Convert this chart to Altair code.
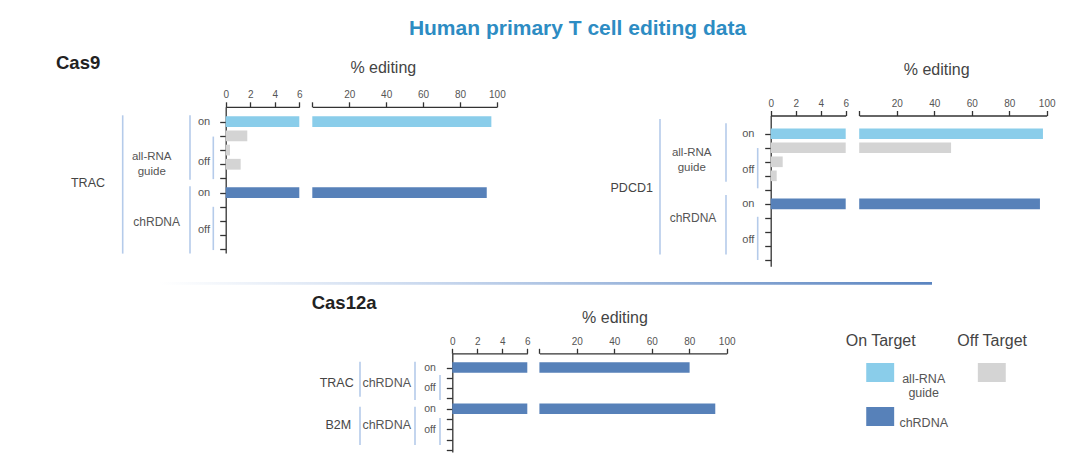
import altair as alt
import pandas as pd

FONT = "Liberation Sans"
CYAN = "#8acdea"
DARK = "#5781b9"
GRAY = "#d4d4d4"
BRACKET = "#b5cbea"
AXIS = "#333333"
TXT = "#555555"
TITLE_BLUE = "#2d8cc3"

# ---------------- data ----------------
guides = ["all-RNA guide", "chRDNA"]

# Cas9 / TRAC
trac9_on_rows = [1, 6]
trac9_on_guides = ["all-RNA guide", "chRDNA"]
trac9_on_values = [97.0, 94.5]
trac9_off_rows = [2, 3, 4]
trac9_off_values = [1.76, 0.35, 1.22]

# Cas9 / PDCD1
pdcd1_on_rows = [1, 6]
pdcd1_on_guides = ["all-RNA guide", "chRDNA"]
pdcd1_on_values = [98.0, 96.4]
pdcd1_off_rows = [2, 3, 4]
pdcd1_off_values = [49.0, 0.96, 0.48]

# Cas12a / TRAC, B2M
cas12_on_rows = [1, 5]
cas12_on_guides = ["chRDNA", "chRDNA"]
cas12_on_values = [80.2, 93.9]

left_ticks = [0, 2, 4, 6]
right_ticks = [0, 20, 40, 60, 80, 100]

# ---------------- panel geometry (pixel ranges of the scales) ----------------
TRAC9 = dict(xl=[217.7, 291.3], xr=[304.3, 488.9], ydom=[-0.05, 10.25], yr=[98.8, 244.9],
             half=0.38, yticks=list(range(1, 11)))
PDCD1 = dict(xl=[762.7, 837.7], xr=[851.2, 1038.7], ydom=[-0.3, 10.45], yr=[107.5, 258.3],
             half=0.38, yticks=list(range(1, 11)))
CAS12 = dict(xl=[444.3, 519.3], xr=[531.4, 718.7], ydom=[-0.38, 9.2], yr=[345.3, 444.0],
             half=0.5, yticks=list(range(1, 10)))


def yscale(p):
    return alt.Scale(domain=p["ydom"], range=p["yr"], nice=False, zero=False)


def xscale(rng, dom, clamp=False):
    if clamp:
        return alt.Scale(domain=dom, range=rng, nice=False, zero=False, clamp=True)
    return alt.Scale(domain=dom, range=rng, nice=False, zero=False)


color_enc = alt.Color(
    "guide:N",
    scale=alt.Scale(domain=guides, range=[CYAN, DARK]),
    legend=alt.Legend(
        title="On Target", orient="none", legendX=837.7, legendY=325, direction="vertical",
        titleFontSize=16, titleFontWeight="normal", titleColor="#444444", titleFont=FONT,
        titlePadding=14,
        symbolType="M-1.47,-1L1.47,-1L1.47,1L-1.47,1Z", symbolSize=361, symbolStrokeWidth=0,
        symbolOffset=25, symbolOpacity=1,
        labelFont=FONT, labelFontSize=12.5, labelColor=TXT, labelAlign="center",
        labelBaseline="top", labelOffset=34, labelLimit=300,
        labelExpr="datum.label == 'all-RNA guide' ? ['all-RNA', 'guide'] : datum.label",
        rowPadding=7,
    ),
)

fill_enc = alt.Fill(
    "kind:N",
    scale=alt.Scale(domain=["Off Target"], range=[GRAY]),
    legend=alt.Legend(
        title="Off Target", orient="none", legendX=949.3, legendY=325, direction="vertical",
        titleFontSize=16, titleFontWeight="normal", titleColor="#444444", titleFont=FONT,
        titlePadding=14,
        symbolType="M-1.47,-1L1.47,-1L1.47,1L-1.47,1Z", symbolSize=361, symbolStrokeWidth=0,
        symbolOffset=25, symbolOpacity=1,
        labelExpr="''",
    ),
)


def x_axis(p, values, hide_zero=False):
    kw = dict(orient="top", offset=-p["yr"][0], values=values, title=None, grid=False,
              tickSize=5, labelPadding=2, labelFontSize=10, labelColor=TXT, labelFont=FONT,
              domainColor=AXIS, tickColor=AXIS, domainWidth=1.3, tickWidth=1.3,
              labelFlush=False, labelOverlap=False)
    if hide_zero:
        kw["labelExpr"] = "datum.value == 0 ? '' : datum.label"
    return alt.Axis(**kw)


def y_axis(p):
    return alt.Axis(orient="left", offset=-p["xl"][0], values=p["yticks"], labels=False,
                    title=None, grid=False, tickSize=6, domainColor=AXIS, tickColor=AXIS,
                    domainWidth=1.3, tickWidth=1.3)


def bars(df, p, seg, kind, axes):
    base = alt.Chart(df).transform_calculate(
        start="0",
        lo=f"datum.row - {p['half']}",
        hi=f"datum.row + {p['half']}",
    )
    if seg == "R":
        base = base.transform_filter("datum.value > 6")
        xs = xscale(p["xr"], [0, 100])
        xa = x_axis(p, right_ticks, hide_zero=True) if axes else None
        ya = None
    else:
        xs = xscale(p["xl"], [0, 6], clamp=True)
        xa = x_axis(p, left_ticks) if axes else None
        ya = y_axis(p) if axes else None
    enc = dict(
        x=alt.X("start:Q", scale=xs, axis=xa),
        x2=alt.X2("value:Q"),
        y=alt.Y("lo:Q", scale=yscale(p), axis=ya),
        y2=alt.Y2("hi:Q"),
    )
    if kind == "on":
        enc["color"] = color_enc
    else:
        enc["fill"] = fill_enc
    return base.mark_rect().encode(**enc)


def row_text(p, texts, rows, x, size=11, color=TXT, **kw):
    df = pd.DataFrame({"t": texts, "row": rows})
    return alt.Chart(df).mark_text(fontSize=size, color=color, font=FONT, align="center",
                                   baseline="middle", **kw).encode(
        x=alt.value(x), y=alt.Y("row:Q", scale=yscale(p), axis=None), text="t:N")


def bracket(p, x, r1, r2):
    df = pd.DataFrame({"r1": r1, "r2": r2})
    return alt.Chart(df).mark_rule(color=BRACKET, strokeWidth=1.6).encode(
        x=alt.value(x), y=alt.Y("r1:Q", scale=yscale(p), axis=None), y2="r2:Q")


def note(text, x, y, size, color, weight="normal", align="center"):
    return alt.Chart(pd.DataFrame({"t": [text]})).mark_text(
        fontSize=size, color=color, fontWeight=weight, align=align, baseline="middle",
        font=FONT).encode(x=alt.value(x), y=alt.value(y), text="t:N")


def on_df(rows, gs, vals):
    return pd.DataFrame({"row": rows, "guide": gs, "value": vals})


def off_df(rows, vals):
    return pd.DataFrame({"row": rows, "value": vals, "kind": ["Off Target"] * len(rows)})


layers = []

# separator
layers.append(
    alt.Chart(pd.DataFrame({"a": [0]})).mark_rect(
        fill=alt.LinearGradient(
            gradient="linear",
            stops=[alt.GradientStop(color="#ffffff", offset=0),
                   alt.GradientStop(color="#c9d8ee", offset=0.35),
                   alt.GradientStop(color="#5a84c0", offset=1)],
            x1=0, x2=1, y1=0, y2=0)
    ).encode(x=alt.value(152), x2=alt.value(924), y=alt.value(274), y2=alt.value(276.8))
)

# texts
layers.append(note("Human primary T cell editing data", 569.5, 20.5, 21, TITLE_BLUE, "bold"))
layers.append(note("Cas9", 48, 54.5, 18.5, "#222222", "bold", "left"))
layers.append(note("Cas12a", 303.7, 295.3, 18.5, "#222222", "bold", "left"))
layers.append(note("% editing", 375.3, 60.3, 16, "#444444"))
layers.append(note("% editing", 928.7, 62, 16, "#444444"))
layers.append(note("% editing", 607, 310.3, 16, "#444444"))

# ---- Cas9 TRAC ----
p = TRAC9
tr_on = on_df(trac9_on_rows, trac9_on_guides, trac9_on_values)
tr_off = off_df(trac9_off_rows, trac9_off_values)
layers += [
    bars(tr_on, p, "L", "on", True),
    bars(tr_off, p, "L", "off", False),
    bars(tr_on, p, "R", "on", True),
    row_text(p, ["on", "off", "on", "off"], [1, 3.85, 6, 8.65], 196, 11),
    row_text(p, ["all-RNA\nguide"], [3.52], 143.7, 11.5, lineBreak="\n", lineHeight=15),
    row_text(p, ["chRDNA"], [8.05], 148.7, 12),
    row_text(p, ["TRAC"], [5.34], 80, 12.5, color="#444444"),
    bracket(p, 114.7, [0.55], [10.3]),
    bracket(p, 182, [0.55, 5.55], [5.1, 10.3]),
    bracket(p, 205.3, [2.05, 7.0], [5.05, 10.05]),
]

# ---- Cas9 PDCD1 ----
p = PDCD1
pd_on = on_df(pdcd1_on_rows, pdcd1_on_guides, pdcd1_on_values)
pd_off = off_df(pdcd1_off_rows, pdcd1_off_values)
layers += [
    bars(pd_on, p, "L", "on", True),
    bars(pd_off, p, "L", "off", False),
    bars(pd_on, p, "R", "on", True),
    bars(pd_off, p, "R", "off", False),
    row_text(p, ["on", "off", "on", "off"], [1, 3.6, 6, 8.6], 740.3, 11),
    row_text(p, ["all-RNA\nguide"], [2.4], 683.7, 11.5, lineBreak="\n", lineHeight=15),
    row_text(p, ["chRDNA"], [7.03], 685, 12),
    row_text(p, ["PDCD1"], [4.9], 623.7, 12.5, color="#444444"),
    bracket(p, 652, [-0.05], [9.6]),
    bracket(p, 718, [0.26, 5.37], [4.42, 9.6]),
    bracket(p, 749.7, [2.02, 6.92], [4.89, 10.0]),
]

# ---- Cas12a ----
p = CAS12
c_on = on_df(cas12_on_rows, cas12_on_guides, cas12_on_values)
layers += [
    bars(c_on, p, "L", "on", True),
    bars(c_on, p, "R", "on", True),
    row_text(p, ["on", "off", "on", "off"], [1, 3.02, 5, 7.07], 422, 10.5),
    row_text(p, ["TRAC"], [2.53], 328.7, 12.5, color="#444444"),
    row_text(p, ["B2M"], [6.58], 330.3, 12.5, color="#444444"),
    row_text(p, ["chRDNA", "chRDNA"], [2.53, 6.58], 378.7, 12.5),
    bracket(p, 352, [0.44, 4.8], [3.83, 8.52]),
    bracket(p, 407, [0.44, 4.8], [4.16, 8.52]),
    bracket(p, 432, [1.73, 5.9], [4.16, 8.52]),
]

chart = (
    alt.layer(*layers)
    .resolve_scale(x="independent", y="independent")
    .resolve_axis(x="independent", y="independent")
    .properties(width=1064, height=457, padding=0,
                autosize=alt.AutoSizeParams(type="none"))
    .configure_view(strokeWidth=0)
    .configure_axis(grid=False)
)

chart.save("out.html", embed_options={"renderer": "svg", "actions": False})
